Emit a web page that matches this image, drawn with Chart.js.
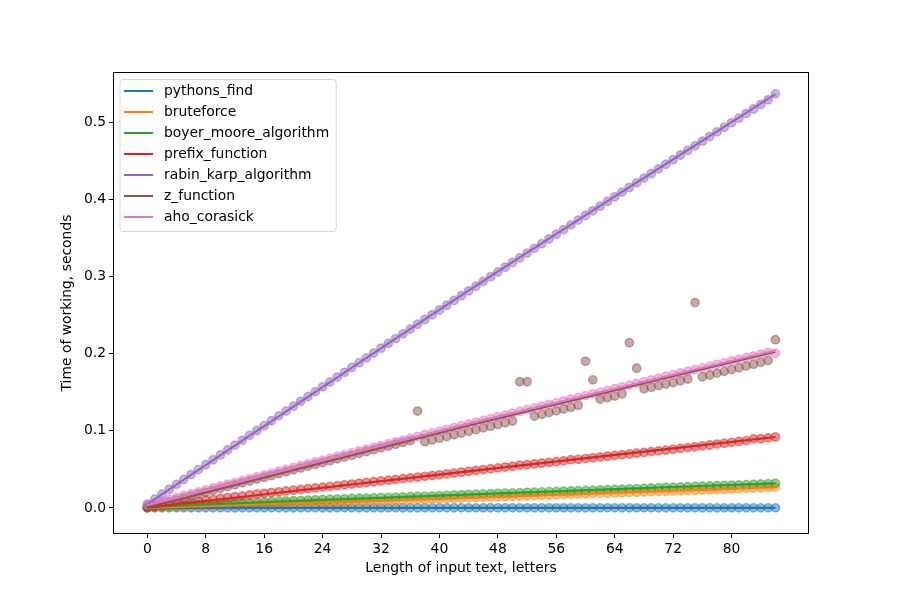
<!DOCTYPE html>
<html><head><meta charset="utf-8">
<script src="https://cdn.jsdelivr.net/npm/chart.js@4.4.0/dist/chart.umd.min.js"></script>
<style>html,body{margin:0;padding:0;background:#fff}#wrap{width:900px;height:600px}</style>
</head><body><div id="wrap"><canvas id="c" width="900" height="600"></canvas></div>
<script>
const xValues = [
 0,1,2,3,4,5,6,7,8,9,
 10,11,12,13,14,15,16,17,18,19,
 20,21,22,23,24,25,26,27,28,29,
 30,31,32,33,34,35,36,37,38,39,
 40,41,42,43,44,45,46,47,48,49,
 50,51,52,53,54,55,56,57,58,59,
 60,61,62,63,64,65,66,67,68,69,
 70,71,72,73,74,75,76,77,78,79,
 80,81,82,83,84,85,86];

const seriesNames = ['pythons_find','bruteforce','boyer_moore_algorithm','prefix_function','rabin_karp_algorithm','z_function','aho_corasick'];
const seriesColors = ['#1f77b4','#ff7f0e','#2ca02c','#d62728','#9467bd','#8c564b','#e377c2'];

const pythonsFind = [
 0.0001,0.0001,0.0002,0.0002,0.0002,0.0002,0.0002,0.0002,0.0002,0.0002,
 0.0002,0.0002,0.0002,0.0002,0.0002,0.0002,0.0002,0.0002,0.0002,0.0002,
 0.0002,0.0002,0.0002,0.0002,0.0003,0.0002,0.0002,0.0002,0.0002,0.0002,
 0.0002,0.0002,0.0002,0.0002,0.0002,0.0002,0.0002,0.0002,0.0002,0.0002,
 0.0002,0.0002,0.0002,0.0002,0.0002,0.0002,0.0002,0.0003,0.0002,0.0002,
 0.0002,0.0002,0.0002,0.0002,0.0002,0.0002,0.0002,0.0002,0.0002,0.0002,
 0.0002,0.0002,0.0002,0.0002,0.0002,0.0002,0.0002,0.0002,0.0002,0.0002,
 0.0002,0.0002,0.0002,0.0002,0.0002,0.0002,0.0002,0.0002,0.0002,0.0002,
 0.0002,0.0002,0.0002,0.0002,0.0002,0.0002,0.0002];

const bruteforce = [
 0.0003,0.0006,0.0009,0.0012,0.0015,0.0019,0.0023,0.0026,0.0030,0.0032,
 0.0035,0.0037,0.0040,0.0042,0.0045,0.0047,0.0050,0.0053,0.0055,0.0058,
 0.0060,0.0063,0.0065,0.0068,0.0070,0.0073,0.0075,0.0078,0.0080,0.0083,
 0.0085,0.0088,0.0090,0.0094,0.0097,0.0101,0.0104,0.0108,0.0111,0.0115,
 0.0118,0.0121,0.0125,0.0128,0.0131,0.0135,0.0138,0.0142,0.0145,0.0148,
 0.0151,0.0154,0.0157,0.0160,0.0164,0.0167,0.0170,0.0173,0.0176,0.0180,
 0.0183,0.0186,0.0189,0.0192,0.0195,0.0198,0.0201,0.0204,0.0207,0.0211,
 0.0214,0.0217,0.0220,0.0223,0.0226,0.0229,0.0233,0.0236,0.0239,0.0242,
 0.0245,0.0249,0.0254,0.0258,0.0262,0.0266,0.0270];

const boyerMoore = [
 0.0005,0.0012,0.0018,0.0024,0.0030,0.0035,0.0040,0.0045,0.0050,0.0054,
 0.0058,0.0061,0.0065,0.0069,0.0073,0.0076,0.0080,0.0084,0.0088,0.0091,
 0.0095,0.0099,0.0103,0.0106,0.0110,0.0113,0.0116,0.0119,0.0123,0.0126,
 0.0129,0.0132,0.0135,0.0138,0.0141,0.0144,0.0148,0.0151,0.0154,0.0157,
 0.0160,0.0164,0.0168,0.0171,0.0175,0.0179,0.0183,0.0186,0.0190,0.0193,
 0.0196,0.0199,0.0203,0.0206,0.0209,0.0212,0.0215,0.0218,0.0221,0.0224,
 0.0228,0.0231,0.0234,0.0237,0.0240,0.0244,0.0248,0.0251,0.0255,0.0259,
 0.0263,0.0266,0.0270,0.0273,0.0276,0.0279,0.0283,0.0286,0.0289,0.0292,
 0.0295,0.0299,0.0303,0.0307,0.0312,0.0316,0.0320];

const prefixFunction = [
 0.0010,0.0022,0.0033,0.0045,0.0056,0.0067,0.0078,0.0089,0.0100,0.0112,
 0.0123,0.0135,0.0146,0.0157,0.0168,0.0179,0.0190,0.0200,0.0210,0.0220,
 0.0230,0.0240,0.0250,0.0260,0.0270,0.0280,0.0290,0.0300,0.0310,0.0320,
 0.0330,0.0340,0.0350,0.0360,0.0370,0.0380,0.0390,0.0400,0.0410,0.0420,
 0.0430,0.0441,0.0452,0.0464,0.0475,0.0486,0.0497,0.0508,0.0520,0.0530,
 0.0540,0.0556,0.0560,0.0570,0.0580,0.0590,0.0600,0.0610,0.0626,0.0630,
 0.0640,0.0650,0.0660,0.0670,0.0680,0.0690,0.0700,0.0710,0.0720,0.0730,
 0.0740,0.0750,0.0760,0.0771,0.0782,0.0794,0.0805,0.0816,0.0827,0.0838,
 0.0850,0.0862,0.0873,0.0896,0.0897,0.0908,0.0920];

const rabinKarp = [
 0.0050,0.0114,0.0178,0.0242,0.0306,0.0369,0.0433,0.0497,0.0560,0.0624,
 0.0687,0.0751,0.0814,0.0877,0.0941,0.1004,0.1067,0.1130,0.1193,0.1256,
 0.1319,0.1382,0.1444,0.1507,0.1570,0.1633,0.1695,0.1758,0.1820,0.1882,
 0.1945,0.2007,0.2069,0.2132,0.2194,0.2256,0.2318,0.2380,0.2442,0.2503,
 0.2565,0.2627,0.2689,0.2750,0.2812,0.2873,0.2935,0.2996,0.3057,0.3119,
 0.3180,0.3241,0.3302,0.3363,0.3424,0.3485,0.3546,0.3607,0.3668,0.3729,
 0.3789,0.3850,0.3910,0.3971,0.4031,0.4092,0.4152,0.4212,0.4273,0.4333,
 0.4393,0.4453,0.4513,0.4573,0.4633,0.4692,0.4752,0.4812,0.4872,0.4931,
 0.4991,0.5050,0.5110,0.5169,0.5228,0.5288,0.5365];

const zFunction = [
 0.0005,0.0034,0.0059,0.0083,0.0108,0.0132,0.0156,0.0181,0.0205,0.0229,
 0.0254,0.0278,0.0302,0.0326,0.0350,0.0374,0.0398,0.0422,0.0446,0.0470,
 0.0494,0.0518,0.0542,0.0566,0.0589,0.0613,0.0637,0.0661,0.0684,0.0708,
 0.0732,0.0755,0.0779,0.0802,0.0826,0.0849,0.0873,0.1256,0.0859,0.0881,
 0.0904,0.0926,0.0948,0.0971,0.0993,0.1015,0.1038,0.1060,0.1082,0.1105,
 0.1127,0.1636,0.1636,0.1190,0.1213,0.1236,0.1260,0.1283,0.1306,0.1330,
 0.1900,0.1660,0.1410,0.1430,0.1450,0.1480,0.2140,0.1810,0.1545,0.1565,
 0.1585,0.1605,0.1625,0.1648,0.1670,0.2660,0.1700,0.1723,0.1747,0.1770,
 0.1793,0.1817,0.1840,0.1863,0.1887,0.1910,0.2180];

const ahoCorasick = [
 0.0040,0.0064,0.0089,0.0113,0.0138,0.0162,0.0186,0.0211,0.0235,0.0259,
 0.0284,0.0308,0.0332,0.0356,0.0380,0.0404,0.0428,0.0452,0.0476,0.0500,
 0.0524,0.0548,0.0572,0.0596,0.0619,0.0643,0.0667,0.0691,0.0714,0.0738,
 0.0762,0.0785,0.0809,0.0832,0.0856,0.0879,0.0903,0.0926,0.0949,0.0973,
 0.0996,0.1019,0.1043,0.1066,0.1089,0.1112,0.1135,0.1158,0.1181,0.1204,
 0.1228,0.1250,0.1273,0.1296,0.1319,0.1342,0.1365,0.1388,0.1411,0.1433,
 0.1456,0.1479,0.1501,0.1524,0.1547,0.1569,0.1592,0.1614,0.1637,0.1659,
 0.1682,0.1704,0.1726,0.1749,0.1771,0.1793,0.1815,0.1838,0.1860,0.1882,
 0.1904,0.1926,0.1948,0.1970,0.1992,0.2014,0.2005];

// fitted trend lines, read at x = 0, 43, 86
const fitX = [0, 43, 86];
const fitPythonsFind = [0.0002, 0.0002, 0.0002];
const fitBruteforce = [0.0000, 0.0130, 0.0268];
const fitBoyerMoore = [0.0015, 0.0172, 0.0320];
const fitPrefixFunction = [0.0005, 0.0465, 0.0920];
const fitRabinKarp = [0.0050, 0.2755, 0.5360];
const fitZFunction = [0.0005, 0.1045, 0.2025];
const fitAhoCorasick = [0.0040, 0.1070, 0.2040];

const xTickValues = [0, 8, 16, 24, 32, 40, 48, 56, 64, 72, 80];
const yTickValues = [0.0, 0.1, 0.2, 0.3, 0.4, 0.5];

const pointSeries = [pythonsFind, bruteforce, boyerMoore, prefixFunction, rabinKarp, zFunction, ahoCorasick];
const fitSeries = [fitPythonsFind, fitBruteforce, fitBoyerMoore, fitPrefixFunction, fitRabinKarp, fitZFunction, fitAhoCorasick];

function rgba(hex, a) {
  const n = parseInt(hex.slice(1), 16);
  return `rgba(${(n >> 16) & 255},${(n >> 8) & 255},${n & 255},${a})`;
}

const datasets = [];
pointSeries.forEach((vals, i) => datasets.push({
  type: 'scatter',
  label: seriesNames[i] + ' (points)',
  data: xValues.map((x, k) => ({x: x, y: vals[k]})),
  backgroundColor: rgba(seriesColors[i], 0.5),
  borderColor: rgba(seriesColors[i], 0.5),
  borderWidth: 1.4,
  pointRadius: 4.2,
  pointHoverRadius: 4.2,
  showLine: false,
  order: 100 - i
}));
fitSeries.forEach((vals, i) => datasets.push({
  type: 'line',
  label: seriesNames[i],
  data: fitX.map((x, k) => ({x: x, y: vals[k]})),
  borderColor: seriesColors[i],
  backgroundColor: seriesColors[i],
  borderWidth: 2.1,
  pointRadius: 0,
  fill: false,
  cubicInterpolationMode: 'monotone',
  order: 50 - i
}));

const FONT = 'DejaVu Sans';
const FS = 13.9;

const frameAndLegend = {
  id: 'frameAndLegend',
  afterDraw(chart) {
    const {ctx, chartArea: a} = chart;
    ctx.save();
    ctx.strokeStyle = '#000';
    ctx.lineWidth = 1;
    ctx.strokeRect(Math.round(a.left) + 0.5, Math.round(a.top) + 0.5,
                   Math.round(a.right - a.left) - 1, Math.round(a.bottom - a.top) - 1);
    ctx.font = `${FS}px "${FONT}"`;
    const bx = a.left + 7, by = a.top + 7.5;
    let tw = 0;
    seriesNames.forEach(n => { tw = Math.max(tw, ctx.measureText(n).width); });
    const bw = 44 + tw + 7, rowH = 21, bh = 12 + rowH * (seriesNames.length - 1) + 14;
    const r = 3;
    ctx.beginPath();
    ctx.moveTo(bx + r, by);
    ctx.arcTo(bx + bw, by, bx + bw, by + bh, r);
    ctx.arcTo(bx + bw, by + bh, bx, by + bh, r);
    ctx.arcTo(bx, by + bh, bx, by, r);
    ctx.arcTo(bx, by, bx + bw, by, r);
    ctx.closePath();
    ctx.fillStyle = 'rgba(255,255,255,0.8)';
    ctx.fill();
    ctx.strokeStyle = 'rgba(204,204,204,0.8)';
    ctx.lineWidth = 1;
    ctx.stroke();
    seriesNames.forEach((n, i) => {
      const y = by + 11.5 + i * rowH;
      ctx.strokeStyle = seriesColors[i];
      ctx.lineWidth = 2.1;
      ctx.beginPath();
      ctx.moveTo(bx + 4, y);
      ctx.lineTo(bx + 33, y);
      ctx.stroke();
      ctx.fillStyle = '#000';
      ctx.textBaseline = 'middle';
      ctx.textAlign = 'left';
      ctx.fillText(n, bx + 44, y);
    });
    ctx.restore();
  }
};

Chart.defaults.font.family = FONT;
Chart.defaults.font.size = FS;
Chart.defaults.color = '#000';

new Chart(document.getElementById('c'), {
  type: 'scatter',
  data: {datasets: datasets},
  options: {
    responsive: false,
    devicePixelRatio: 1,
    animation: false,
    layout: {padding: {left: 0, right: 91, top: 72, bottom: 0}},
    plugins: {legend: {display: false}, tooltip: {enabled: false}},
    scales: {
      x: {
        type: 'linear',
        min: -4.7, max: 90.6,
        border: {display: false},
        grid: {drawOnChartArea: false, drawTicks: true, tickLength: 4, color: '#000', lineWidth: 1},
        ticks: {padding: 3, color: '#000', maxRotation: 0, autoSkip: false,
                font: {family: FONT, size: FS}, callback: v => String(v)},
        afterBuildTicks: s => { s.ticks = xTickValues.map(v => ({value: v})); },
        afterFit: s => { s.height = 66; },
        title: {display: true, text: 'Length of input text, letters', color: '#000',
                font: {family: FONT, size: FS}, padding: {top: 0, bottom: 23}}
      },
      y: {
        type: 'linear',
        min: -0.0337, max: 0.5648,
        border: {display: false},
        grid: {drawOnChartArea: false, drawTicks: true, tickLength: 4, color: '#000', lineWidth: 1},
        ticks: {padding: 3, color: '#000', font: {family: FONT, size: FS},
                callback: v => Number(v).toFixed(1)},
        afterBuildTicks: s => { s.ticks = yTickValues.map(v => ({value: v})); },
        afterFit: s => { s.width = 113; },
        title: {display: true, text: 'Time of working, seconds', color: '#000',
                font: {family: FONT, size: FS}, padding: {top: 59, bottom: 0}}
      }
    }
  },
  plugins: [frameAndLegend]
});
</script>
</body></html>
